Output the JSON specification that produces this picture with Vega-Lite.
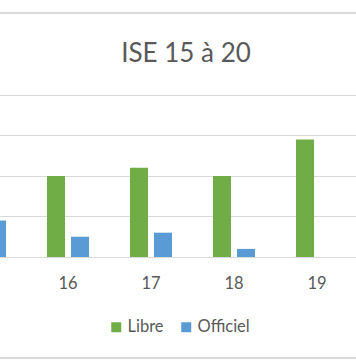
{
  "$schema": "https://vega.github.io/schema/vega-lite/v6.json",
  "width": 356,
  "height": 257,
  "autosize": {"type": "none"},
  "padding": {"top": 0, "left": 0, "right": 0, "bottom": 107},
  "background": "white",
  "config": {"font": "Lato", "view": {"stroke": null}},
  "title": {"text": "ISE 15 à 20", "fontSize": 26, "fontWeight": "normal", "color": "#595959", "anchor": "middle", "offset": -67, "dx": 8, "font": "Lato"},
  "data": {"values": [
    {"category": "15", "series": "Officiel", "value": 9},
    {"category": "16", "series": "Libre", "value": 20},
    {"category": "16", "series": "Officiel", "value": 5},
    {"category": "17", "series": "Libre", "value": 22},
    {"category": "17", "series": "Officiel", "value": 6},
    {"category": "18", "series": "Libre", "value": 20},
    {"category": "18", "series": "Officiel", "value": 2},
    {"category": "19", "series": "Libre", "value": 29}
  ]},
  "layer": [
    {
      "mark": {"type": "bar", "clip": true},
      "encoding": {
        "x": {"field": "category", "type": "nominal",
          "scale": {"domain": ["15", "16", "17", "18", "19", "20"], "range": [-56.5, 441.5], "paddingInner": 0.494, "paddingOuter": 0.247},
          "axis": {"title": null, "values": ["16", "17", "18", "19"], "ticks": false, "domainColor": "#D9D9D9", "domainWidth": 1, "labelFontSize": 16.5, "labelColor": "#595959", "labelPadding": 18, "labelAngle": 0, "labelFont": "Lato"}},
        "xOffset": {"field": "series", "scale": {"paddingInner": 0.25, "paddingOuter": 0}},
        "y": {"field": "value", "type": "quantitative",
          "scale": {"domain": [0, 63.4], "nice": false, "zero": true},
          "axis": {"values": [0, 10, 20, 30, 40], "labels": false, "ticks": false, "domain": false, "title": null, "gridColor": "#D9D9D9", "gridWidth": 1}},
        "color": {"field": "series", "type": "nominal",
          "scale": {"domain": ["Libre", "Officiel"], "range": ["#70AD47", "#5B9BD5"]},
          "legend": {"orient": "none", "legendX": 108, "legendY": 319, "direction": "horizontal", "gridAlign": "none", "title": null, "symbolType": "square", "symbolSize": 100, "symbolStrokeWidth": 0, "labelFontSize": 16.5, "labelColor": "#595959", "labelOffset": 3, "columnPadding": 14, "padding": 0, "labelFont": "Lato"}}
      }
    },
    {"mark": {"type": "rule", "color": "#D9D9D9", "strokeWidth": 1}, "encoding": {"y": {"datum": 60.2}}},
    {"mark": {"type": "rule", "color": "#D9D9D9", "strokeWidth": 1}, "encoding": {"y": {"datum": -24.9}}}
  ]
}
